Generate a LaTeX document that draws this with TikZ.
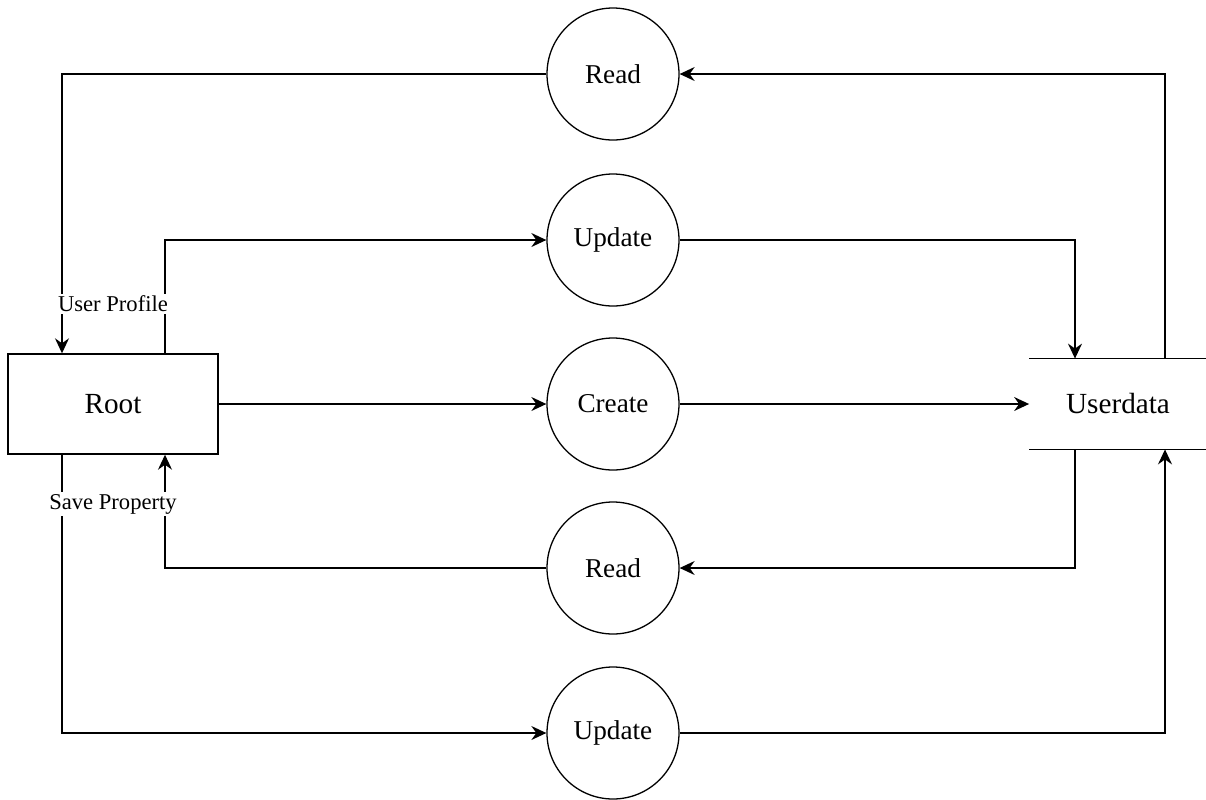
\documentclass[tikz,border=0pt]{standalone}
\usepackage{fontspec}
\setmainfont{Liberation Serif}
\usetikzlibrary{arrows.meta,calc}

\tikzset{
  proc/.style={draw,circle,line width=0.65pt,minimum size=66pt,inner sep=0pt,font=\fontsize{13.6}{16}\selectfont},
  entity/.style={draw,line width=0.7pt,minimum width=105pt,minimum height=50pt,font=\fontsize{14.6}{17}\selectfont},
  store/.style={minimum width=88.5pt,minimum height=45pt,font=\fontsize{14.6}{17}\selectfont},
  flow/.style={line width=0.7pt,-{Stealth[length=7.5pt,width=7pt,inset=2.5pt]}},
  lbl/.style={fill=white,inner sep=1pt,font=\fontsize{11.3}{13}\selectfont}
}

\begin{document}
\begin{tikzpicture}[x=0.5pt,y=-0.5pt]
  % pixel grid of the original: 1206 x 799
  \useasboundingbox (0,0) rectangle (1206,799);
  \node[entity] (root) at (113,404) {Root};
  \node[store] (ud) at (1118,404) {Userdata};
  \draw[line width=0.7pt] (ud.north west) -- (ud.north east) (ud.south west) -- (ud.south east);
  \node[proc] (read1) at (613,74) {Read};
  \node[proc] (upd1) at (613,240) {Update};
  \node[proc] (create) at (613,404) {Create};
  \node[proc] (read2) at (613,568) {Read};
  \node[proc] (upd2) at (613,733) {Update};
  % flows
  \draw[flow] ($(ud.north)+(47,0)$) |- (read1.east);
  \draw[flow] (read1.west) -| ($(root.north)+(-51,0)$);
  \draw[flow] ($(root.north)+(52,0)$) |- (upd1.west);
  \draw[flow] (upd1.east) -| ($(ud.north)+(-43,0)$);
  \draw[flow] (root.east) -- (create.west);
  \draw[flow] (create.east) -- (ud.west);
  \draw[flow] ($(ud.south)+(-43,0)$) |- (read2.east);
  \draw[flow] (read2.west) -| ($(root.south)+(52,0)$);
  \draw[flow] ($(root.south)+(-51,0)$) |- (upd2.west);
  \draw[flow] (upd2.east) -| ($(ud.south)+(47,0)$);
  \node[lbl] (prof) at (113,304) {User Profile};
  \node[lbl] (save) at (113,504) {Save Property};
\end{tikzpicture}
\end{document}
